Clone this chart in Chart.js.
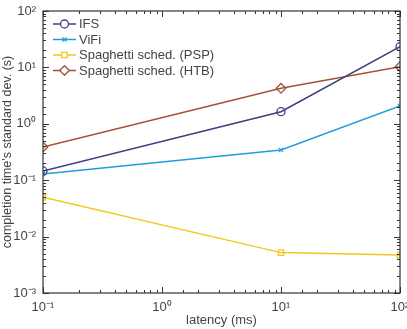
<!DOCTYPE html>
<html>
<head>
<meta charset="utf-8">
<script src="https://cdn.jsdelivr.net/npm/chart.js@4/dist/chart.umd.min.js"></script>
<style>
  html, body { margin: 0; padding: 0; background: #fff; }
  #wrap { width: 407px; height: 329px; }
</style>
</head>
<body>
<div id="wrap"><canvas id="chart" width="407" height="329"></canvas></div>
<script>
// latency (ms)
const latency = [0.1, 10, 100];
const seriesNames = ['IFS', 'ViFi', 'Spaghetti sched. (PSP)', 'Spaghetti sched. (HTB)'];
const ifs = [0.146, 1.64, 23.3];
const vifi = [0.129, 0.343, 2.07];
const psp = [0.0497, 0.0052, 0.0047];
const htb = [0.388, 4.26, 10.3];
const xTickLabels = ['10\u207B\u00B9', '10\u2070', '10\u00B9', '10\u00B2'];
const yTickLabels = ['10\u207B\u00B3', '10\u207B\u00B2', '10\u207B\u00B9', '10\u2070', '10\u00B9', '10\u00B2'];

const colors = ['#3f3f80', '#1f9fd9', '#f2c81f', '#a0523a'];
const markers = ['circle', 'crossRot', 'rect', 'rectRot'];
const markerSize = [4, 3, 3.8, 4.8];

const FONT = 'Liberation Sans, Arial, sans-serif';

function pts(vals) {
  return vals.map((v, i) => ({ x: latency[i], y: v }));
}

const seriesValues = [ifs, vifi, psp, htb];
const datasets = seriesValues.map((vals, i) => ({
  label: seriesNames[i],
  data: pts(vals),
  borderColor: colors[i],
  backgroundColor: 'rgba(0,0,0,0)',
  borderWidth: 1.5,
  pointStyle: markers[i],
  pointRadius: markerSize[i],
  pointBorderWidth: 1.3,
  pointBorderColor: colors[i],
  pointBackgroundColor: 'rgba(0,0,0,0)',
  tension: 0
}));

function powLabel(list, v) {
  const e = Math.log10(v);
  if (Math.abs(e - Math.round(e)) > 1e-6) return '';
  return list;
}

// inward ticks on all four sides + box
const boxTicks = {
  id: 'boxTicks',
  afterDatasetsDraw(chart) {
    const ctx = chart.ctx;
    const a = chart.chartArea;
    const xs = chart.scales.x, ys = chart.scales.y;
    ctx.save();
    ctx.strokeStyle = '#333';
    ctx.lineWidth = 1;
    ctx.beginPath();
    xs.ticks.forEach(t => {
      const e = Math.log10(t.value);
      const major = Math.abs(e - Math.round(e)) < 1e-6;
      const len = major ? 6 : 3;
      const px = Math.round(xs.getPixelForValue(t.value)) + 0.5;
      ctx.moveTo(px, a.bottom); ctx.lineTo(px, a.bottom - len);
      ctx.moveTo(px, a.top); ctx.lineTo(px, a.top + len);
    });
    ys.ticks.forEach(t => {
      const e = Math.log10(t.value);
      const major = Math.abs(e - Math.round(e)) < 1e-6;
      const len = major ? 6 : 3;
      const py = Math.round(ys.getPixelForValue(t.value)) + 0.5;
      ctx.moveTo(a.left, py); ctx.lineTo(a.left + len, py);
      ctx.moveTo(a.right, py); ctx.lineTo(a.right - len, py);
    });
    ctx.stroke();
    ctx.lineWidth = 1.2;
    ctx.strokeRect(a.left, a.top, a.right - a.left, a.bottom - a.top);
    ctx.restore();
  }
};

// MATLAB-style legend: line with marker in the middle
const boxLegend = {
  id: 'boxLegend',
  afterDraw(chart) {
    const ctx = chart.ctx;
    const a = chart.chartArea;
    const x0 = a.left + 10, y0 = a.top + 13, rowH = 15.5;
    ctx.save();
    ctx.font = '13px ' + FONT;
    ctx.textBaseline = 'middle';
    chart.data.datasets.forEach((ds, i) => {
      const y = y0 + i * rowH;
      ctx.strokeStyle = ds.borderColor;
      ctx.lineWidth = 1.5;
      ctx.beginPath();
      ctx.moveTo(x0, y); ctx.lineTo(x0 + 23, y);
      ctx.stroke();
      ctx.lineWidth = 1.3;
      ctx.fillStyle = '#fff';
      Chart.helpers.drawPoint(ctx, {
        pointStyle: ds.pointStyle, radius: ds.pointRadius, rotation: 0, borderWidth: 1.3
      }, x0 + 11.5, y);
      ctx.fillStyle = '#444';
      ctx.fillText(ds.label, x0 + 26, y + 0.5);
    });
    ctx.restore();
  }
};

new Chart(document.getElementById('chart'), {
  type: 'line',
  data: { datasets },
  plugins: [boxTicks, boxLegend],
  options: {
    responsive: false,
    animation: false,
    layout: { padding: { top: 11, right: 7, left: 0, bottom: 0 } },
    plugins: { legend: { display: false }, tooltip: { enabled: false } },
    scales: {
      x: {
        type: 'logarithmic',
        min: 0.1, max: 100,
        grid: { display: false, drawTicks: false },
        border: { display: false },
        title: { display: true, text: 'latency (ms)', color: '#444', font: { family: FONT, size: 13 }, padding: { top: 0, bottom: 1 } },
        ticks: {
          autoSkip: false, maxRotation: 0, color: '#444', padding: 7,
          font: { family: FONT, size: 13 },
          callback: (v) => powLabel(xTickLabels[Math.round(Math.log10(v)) + 1], v)
        },
        afterFit: (s) => { s.height = 36; s.paddingLeft = 0; s.paddingRight = 0; }
      },
      y: {
        type: 'logarithmic',
        min: 0.001, max: 100,
        grid: { display: false, drawTicks: false },
        border: { display: false },
        title: { display: true, text: "completion time's standard dev. (s)", color: '#444', font: { family: FONT, size: 12.5 }, padding: { top: 0, bottom: 2 } },
        ticks: {
          autoSkip: false, color: '#444', padding: 7,
          font: { family: FONT, size: 13 },
          callback: (v) => powLabel(yTickLabels[Math.round(Math.log10(v)) + 3], v)
        },
        afterFit: (s) => { s.width = 43; s.paddingTop = 0; s.paddingBottom = 0; }
      }
    }
  }
});
</script>
</body>
</html>
